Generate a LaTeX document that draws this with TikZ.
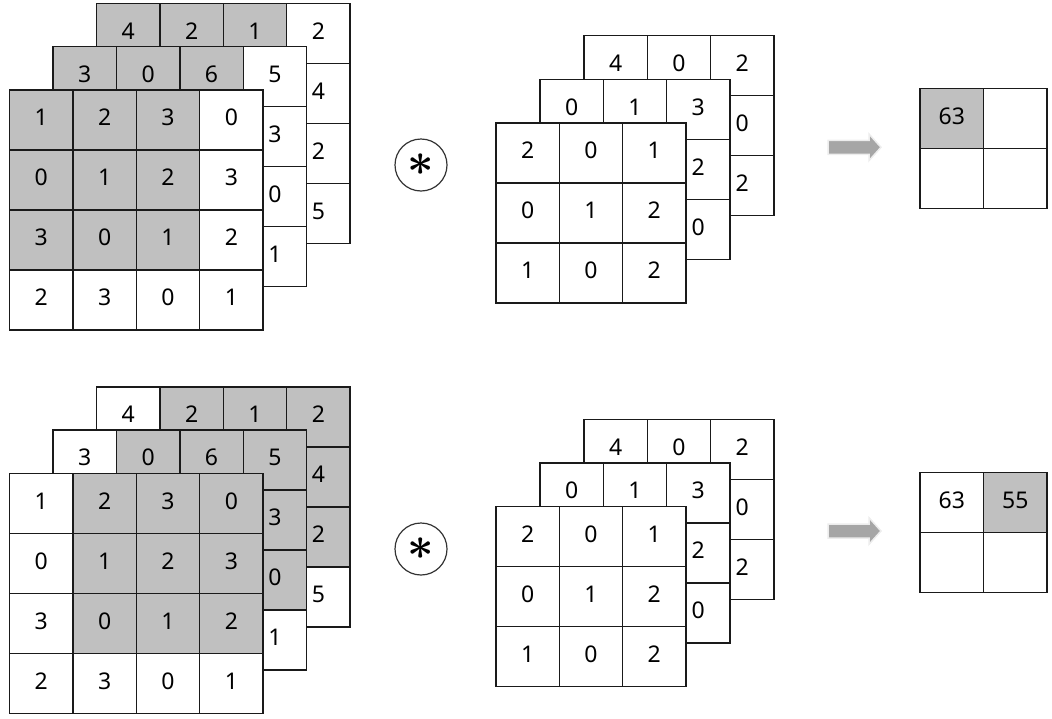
\documentclass[tikz,border=0pt]{standalone}
\usepackage{fontspec}
\usepackage{graphicx}
\setmainfont{Noto Sans}
\definecolor{cg}{HTML}{C0C0C0}
\definecolor{cw}{HTML}{FFFFFF}
\definecolor{linec}{HTML}{1A1A1A}
\definecolor{arrowc}{HTML}{A6A6A6}
\definecolor{arrowrim}{HTML}{EDEDED}
\newcommand\gridcells[6]{%
  \foreach \c/\r/\f/\t in {#6} {%
    \node[cell,fill=\f,minimum width=#4pt,minimum height=#5pt] (#1-\r-\c)
      at ({#2+(\c+0.5)*#4},{#3+(\r+0.5)*#5}) {\t};
  }%
}
\newcommand\blockarrow[2]{% #1 left x, #2 centre y
  \fill[arrowc,draw=arrowrim,line width=1.5pt]
    (#1,#2-7) -- (#1+41,#2-7) -- (#1+41,#2-13.3) -- (#1+53,#2)
    -- (#1+41,#2+13.3) -- (#1+41,#2+7) -- (#1,#2+7) -- cycle;
}
\newcommand\convstar{\raisebox{-1.5pt}{\scalebox{4.6}{\boldmath$\ast$}}}
\begin{document}
\begin{tikzpicture}[x=1pt,y=-1pt,
  cell/.style={draw=linec,line width=1.4pt,inner sep=0pt,text depth=5pt,
    font=\fontsize{23}{23}\selectfont},
  convop/.style={circle,draw=black!80,line width=1.2pt,minimum size=52pt,inner sep=0pt}]
\useasboundingbox (0,0) rectangle (1052,718);
% ================= TOP ROW =================
% input, back channel
\gridcells{tib}{96.5}{3.5}{63.4}{60}{0/0/cg/4,1/0/cg/2,2/0/cg/1,3/0/cw/2,3/1/cw/4,3/2/cw/2,3/3/cw/5}
% input, middle channel
\gridcells{tim}{53}{46.5}{63.4}{60}{0/0/cg/3,1/0/cg/0,2/0/cg/6,3/0/cw/5,3/1/cw/3,3/2/cw/0,3/3/cw/1}
% input, front channel
\gridcells{tif}{9.5}{90}{63.4}{60}{0/0/cg/1,1/0/cg/2,2/0/cg/3,3/0/cw/0,
  0/1/cg/0,1/1/cg/1,2/1/cg/2,3/1/cw/3,
  0/2/cg/3,1/2/cg/0,2/2/cg/1,3/2/cw/2,
  0/3/cw/2,1/3/cw/3,2/3/cw/0,3/3/cw/1}
% operator
\node[convop] (top-op) at (421,165) {\convstar};
% kernel
\gridcells{tkb}{584}{35.5}{63.3}{60}{0/0/cw/4,1/0/cw/0,2/0/cw/2,2/1/cw/0,2/2/cw/2}
\gridcells{tkm}{540}{79.5}{63.3}{60}{0/0/cw/0,1/0/cw/1,2/0/cw/3,2/1/cw/2,2/2/cw/0}
\gridcells{tkf}{496}{123}{63.3}{60}{0/0/cw/2,1/0/cw/0,2/0/cw/1,
  0/1/cw/0,1/1/cw/1,2/1/cw/2,
  0/2/cw/1,1/2/cw/0,2/2/cw/2}
% arrow
\blockarrow{828}{147.3}
% output
\gridcells{tout}{920}{88.3}{63.5}{60}{0/0/cg/63,1/0/cw/,0/1/cw/,1/1/cw/}
% ================= BOTTOM ROW =================
\gridcells{bib}{96.5}{387}{63.4}{60}{0/0/cw/4,1/0/cg/2,2/0/cg/1,3/0/cg/2,3/1/cg/4,3/2/cg/2,3/3/cw/5}
\gridcells{bim}{53}{430}{63.4}{60}{0/0/cw/3,1/0/cg/0,2/0/cg/6,3/0/cg/5,3/1/cg/3,3/2/cg/0,3/3/cw/1}
\gridcells{bif}{9.5}{473.5}{63.4}{60}{0/0/cw/1,1/0/cg/2,2/0/cg/3,3/0/cg/0,
  0/1/cw/0,1/1/cg/1,2/1/cg/2,3/1/cg/3,
  0/2/cw/3,1/2/cg/0,2/2/cg/1,3/2/cg/2,
  0/3/cw/2,1/3/cw/3,2/3/cw/0,3/3/cw/1}
\node[convop] (bot-op) at (421,549) {\convstar};
\gridcells{bkb}{584}{419.5}{63.3}{60}{0/0/cw/4,1/0/cw/0,2/0/cw/2,2/1/cw/0,2/2/cw/2}
\gridcells{bkm}{540}{463}{63.3}{60}{0/0/cw/0,1/0/cw/1,2/0/cw/3,2/1/cw/2,2/2/cw/0}
\gridcells{bkf}{496}{506.5}{63.3}{60}{0/0/cw/2,1/0/cw/0,2/0/cw/1,
  0/1/cw/0,1/1/cw/1,2/1/cw/2,
  0/2/cw/1,1/2/cw/0,2/2/cw/2}
\blockarrow{828}{531}
\gridcells{bout}{920}{472.3}{63.5}{60}{0/0/cw/63,1/0/cg/55,0/1/cw/,1/1/cw/}
\end{tikzpicture}
\end{document}
